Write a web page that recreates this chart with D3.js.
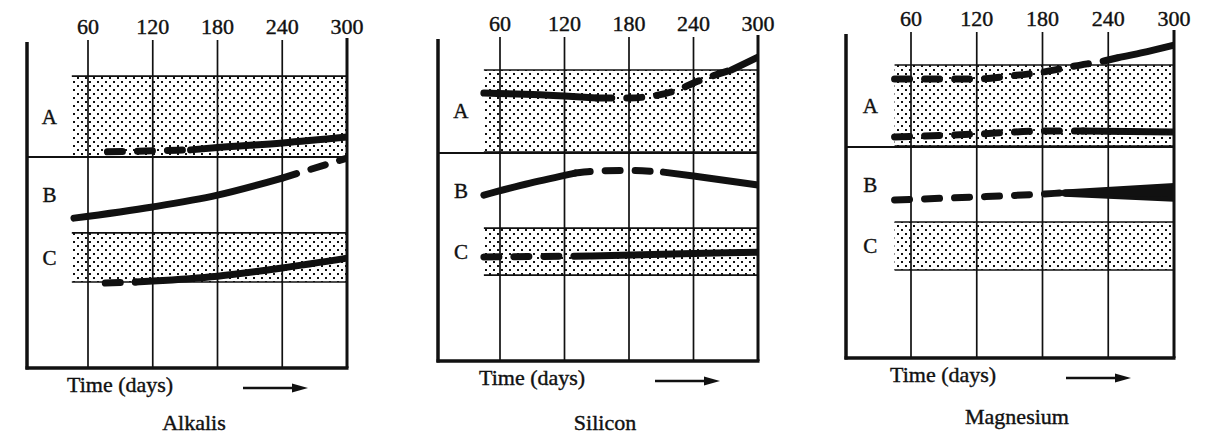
<!DOCTYPE html>
<html>
<head>
<meta charset="utf-8">
<script src="https://cdn.jsdelivr.net/npm/d3@7/dist/d3.min.js"></script>
<style>
  body { margin: 0; background: #fff; }
  text { font-family: "Liberation Serif", "Times New Roman", serif; fill: #111; stroke: #111; stroke-width: 0.4; }
</style>
</head>
<body>
<svg id="chart" width="1209" height="437"></svg>
<script>
// ---- data (days on x, relative level 0..100 on y) ----
const days = [60, 120, 180, 240, 300];
const panelNames = ["Alkalis", "Silicon", "Magnesium"];
const zoneNames = ["A", "B", "C"];
const bandStart = 45;

// Alkalis
const alkBandA = [64.3, 89.0];
const alkBandC = [26.2, 41.2];
const alkDivider = 64.3;
const alkA = [[78, 65.9], [120, 66.2], [155, 66.5], [180, 67.2], [240, 68.6], [300, 70.4]];
const alkAStyle = ["dash", "dash", "solid", "solid", "solid"];
const alkB = [[47, 45.7], [120, 49.1], [180, 52.7], [240, 57.9], [300, 64.0]];
const alkBStyle = ["solid", "solid", "solid", "dash"];
const alkC = [[76, 25.9], [104, 26.2], [120, 26.5], [180, 28.0], [240, 30.5], [300, 33.5]];
const alkCStyle = ["dash", "solid", "solid", "solid", "solid"];

// Silicon
const silBandA = [64.5, 89.8];
const silBandC = [26.5, 41.0];
const silDivider = 64.2;
const silA = [[45, 82.7], [120, 81.8], [150, 81.2], [180, 81.2], [225, 83.6], [240, 85.8], [275, 89.8], [300, 93.8]];
const silAStyle = ["solid", "solid", "dash", "dash", "dash", "dash", "solid"];
const silB = [[45, 51.2], [88, 54.9], [130, 58.0], [155, 58.7], [180, 58.8], [212, 58.3], [240, 57.1], [300, 54.3]];
const silBStyle = ["solid", "solid", "dash", "dash", "dash", "solid", "solid"];
const silC = [[45, 32.1], [145, 32.4], [220, 33.0], [300, 33.6]];
const silCStyle = ["dash", "solid", "solid"];

// Magnesium
const magBandA = [65.0, 89.9];
const magBandC = [27.0, 41.7];
const magDivider = 64.7;
const magAUpper = [[45, 85.6], [120, 85.6], [150, 86.5], [180, 87.7], [210, 89.6], [240, 91.4], [250, 92.2], [270, 93.6], [300, 96.0]];
const magAUpperStyle = ["dash", "dash", "dash", "dash", "dash", "dash", "solid", "solid"];
const magALower = [[45, 67.8], [120, 68.7], [180, 69.6], [217, 69.6], [300, 69.3]];
const magALowerStyle = ["dash", "dash", "dash", "solid"];
const magB = [[45, 48.5], [120, 49.4], [180, 50.3], [196, 50.6]];
const magBStyle = ["dash", "dash", "dash"];
const magBSolid = [[200, 50.6], [300, 50.8]];
const magBUpper = [[200, 51.7], [300, 53.7]];
const magBLower = [[200, 49.5], [300, 47.9]];

// ---- layout ----
const frames = [
  { left: 27, top: 40, bottom: 368, x60: 88, x300: 347 },
  { left: 438, top: 37, bottom: 361, x60: 500, x300: 758 },
  { left: 846, top: 32, bottom: 358, x60: 911, x300: 1174 }
];

const panels = [
  { bands: [alkBandA, alkBandC], divider: alkDivider,
    series: [[alkA, alkAStyle], [alkB, alkBStyle], [alkC, alkCStyle]] },
  { bands: [silBandA, silBandC], divider: silDivider,
    series: [[silA, silAStyle], [silB, silBStyle], [silC, silCStyle]] },
  { bands: [magBandA, magBandC], divider: magDivider,
    series: [[magAUpper, magAUpperStyle], [magALower, magALowerStyle], [magB, magBStyle]],
    wedge: { solid: magBSolid, upper: magBUpper, lower: magBLower } }
];

const svg = d3.select("#chart");
const defs = svg.append("defs");

// stipple: staggered 2px dots on an integer grid
const pat = defs.append("pattern")
  .attr("id", "dots")
  .attr("patternUnits", "userSpaceOnUse")
  .attr("width", 8)
  .attr("height", 8);
pat.append("rect").attr("x", 1).attr("y", 1).attr("width", 2).attr("height", 2).attr("fill", "#111");
pat.append("rect").attr("x", 5).attr("y", 5).attr("width", 2).attr("height", 2).attr("fill", "#111");

panels.forEach((p, i) => {
  const f = frames[i];
  const x = d3.scaleLinear().domain([60, 300]).range([f.x60, f.x300]);
  const y = d3.scaleLinear().domain([0, 100]).range([f.bottom, f.top]);
  const g = svg.append("g");

  defs.append("clipPath").attr("id", "clip" + i)
    .append("rect")
    .attr("x", f.left).attr("y", 0)
    .attr("width", f.x300 - f.left + 1).attr("height", f.bottom);

  // stippled bands
  p.bands.forEach((b) => {
    g.append("rect")
      .attr("x", x(bandStart))
      .attr("y", y(b[1]))
      .attr("width", x(300) - x(bandStart))
      .attr("height", y(b[0]) - y(b[1]))
      .attr("fill", "url(#dots)");
    b.forEach((v) => {
      g.append("line")
        .attr("x1", x(bandStart)).attr("x2", x(300))
        .attr("y1", y(v)).attr("y2", y(v))
        .attr("stroke", "#111").attr("stroke-width", 1.6);
    });
  });

  // A / B divider
  g.append("line")
    .attr("x1", f.left).attr("x2", x(300))
    .attr("y1", y(p.divider)).attr("y2", y(p.divider))
    .attr("stroke", "#111").attr("stroke-width", 2);

  // grid lines
  g.selectAll(".grid")
    .data(days)
    .join("line")
    .attr("x1", (d) => x(d)).attr("x2", (d) => x(d))
    .attr("y1", (d) => (d === 300 ? f.top - 2 : f.top))
    .attr("y2", f.bottom)
    .attr("stroke", "#111")
    .attr("stroke-width", (d) => (d === 300 ? 3 : 1.7));

  // frame
  g.append("line")
    .attr("x1", f.left).attr("x2", f.left)
    .attr("y1", f.top + 2).attr("y2", f.bottom + 1.5)
    .attr("stroke", "#111").attr("stroke-width", 3.5);
  g.append("line")
    .attr("x1", f.left - 1.5).attr("x2", x(300) + 1.5)
    .attr("y1", f.bottom).attr("y2", f.bottom)
    .attr("stroke", "#111").attr("stroke-width", 3.5);

  // tick labels
  g.selectAll(".tick")
    .data(days)
    .join("text")
    .attr("x", (d) => x(d))
    .attr("y", f.top - 6)
    .attr("text-anchor", "middle")
    .attr("font-size", 22)
    .text((d) => d);

  // zone labels
  const zoneY = [
    (p.bands[0][0] + p.bands[0][1]) / 2,
    (p.divider + p.bands[1][1]) / 2,
    (p.bands[1][0] + p.bands[1][1]) / 2
  ];
  g.selectAll(".zone")
    .data(zoneNames)
    .join("text")
    .attr("x", (f.left + x(bandStart)) / 2)
    .attr("y", (d, k) => y(zoneY[k]))
    .attr("dy", "0.35em")
    .attr("text-anchor", "middle")
    .attr("font-size", 21)
    .text((d) => d);

  // curves
  const curves = g.append("g").attr("clip-path", `url(#clip${i})`);
  const line = d3.line()
    .x((d) => x(d[0]))
    .y((d) => y(d[1]))
    .curve(d3.curveMonotoneX);

  p.series.forEach(([pts, styles]) => {
    let start = 0;
    for (let k = 1; k <= styles.length; k++) {
      if (k === styles.length || styles[k] !== styles[start]) {
        const seg = pts.slice(start, k + 1);
        const dashed = styles[start] === "dash";
        curves.append("path")
          .attr("d", line(seg))
          .attr("fill", "none")
          .attr("stroke", "#111")
          .attr("stroke-width", 7)
          .attr("stroke-linecap", "round")
          .attr("stroke-dasharray", dashed ? "15,15" : null);
        start = k;
      }
    }
  });

  if (p.wedge) {
    const area = d3.area()
      .x((d) => x(d[0]))
      .y0((d, k) => y(p.wedge.lower[k][1]))
      .y1((d) => y(d[1]));
    curves.append("path")
      .attr("d", area(p.wedge.upper))
      .attr("fill", "#111");
    curves.append("path")
      .attr("d", line(p.wedge.solid))
      .attr("fill", "none")
      .attr("stroke", "#111")
      .attr("stroke-width", 7)
      .attr("stroke-linecap", "round");
  }

  // axis caption and arrow
  g.append("text")
    .attr("x", f.x60 - 21)
    .attr("y", f.bottom + 24)
    .attr("font-size", 22)
    .text("Time (days)");
  const ay = f.bottom + 20;
  g.append("line")
    .attr("x1", f.x60 + 155).attr("x2", f.x60 + 208)
    .attr("y1", ay).attr("y2", ay)
    .attr("stroke", "#111").attr("stroke-width", 2.5);
  g.append("path")
    .attr("d", `M${f.x60 + 204},${ay - 4.5} L${f.x60 + 220},${ay} L${f.x60 + 204},${ay + 4.5} Z`)
    .attr("fill", "#111");

  // panel title
  g.append("text")
    .attr("x", (f.left + x(300)) / 2 + 7)
    .attr("y", 430 - (i === 2 ? 6 : 0))
    .attr("text-anchor", "middle")
    .attr("font-size", 22)
    .text(panelNames[i]);
});
</script>
</body>
</html>
